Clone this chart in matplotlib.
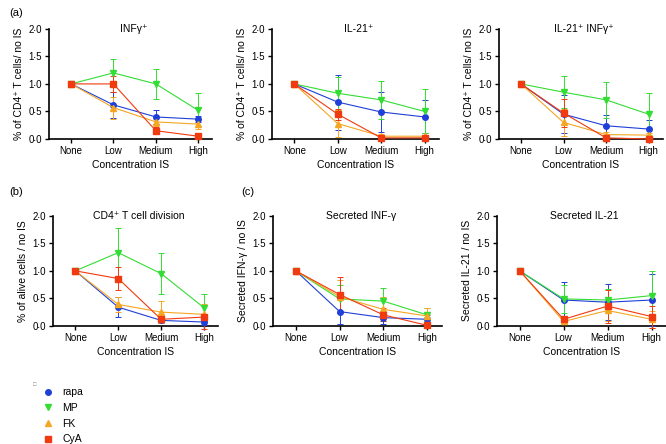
import numpy as np
import matplotlib
matplotlib.use('Agg')
import matplotlib.pyplot as plt
from matplotlib.lines import Line2D

plt.rcParams['font.family'] = ['Liberation Sans', 'DejaVu Sans']
plt.rcParams['font.size'] = 7

conc = ['None', 'Low', 'Medium', 'High']
drugs = ['rapa', 'MP', 'FK', 'CyA']
colors = {'rapa': '#1f3fd8', 'MP': '#33dd33', 'FK': '#f5a623', 'CyA': '#f03a10'}
markers = {'rapa': 'o', 'MP': 'v', 'FK': '^', 'CyA': 's'}
ytick_labels = ['0∙0', '0∙5', '1∙0', '1∙5', '2∙0']

# panel (a) INFγ+
infg_mean = {'rapa': [1, 0.62, 0.40, 0.36], 'MP': [1, 1.20, 1.00, 0.52],
             'FK': [1, 0.57, 0.31, 0.27], 'CyA': [1, 1.00, 0.15, 0.05]}
infg_err = {'rapa': [0, 0.24, 0.13, 0.05], 'MP': [0, 0.25, 0.28, 0.31],
            'FK': [0, 0.20, 0.08, 0.08], 'CyA': [0, 0.15, 0.06, 0.05]}
# panel (a) IL-21+
il21_mean = {'rapa': [1, 0.67, 0.49, 0.40], 'MP': [1, 0.83, 0.71, 0.50],
             'FK': [1, 0.28, 0.05, 0.05], 'CyA': [1, 0.45, 0.02, 0.02]}
il21_err = {'rapa': [0, 0.50, 0.36, 0.30], 'MP': [0, 0.30, 0.34, 0.40],
            'FK': [0, 0.25, 0.04, 0.03], 'CyA': [0, 0.10, 0.02, 0.02]}
# panel (a) IL-21+ INFγ+
dbl_mean = {'rapa': [1, 0.45, 0.24, 0.18], 'MP': [1, 0.85, 0.71, 0.45],
            'FK': [1, 0.30, 0.08, 0.07], 'CyA': [1, 0.47, 0.02, 0.00]}
dbl_err = {'rapa': [0, 0.35, 0.20, 0.17], 'MP': [0, 0.29, 0.32, 0.38],
           'FK': [0, 0.25, 0.05, 0.04], 'CyA': [0, 0.25, 0.02, 0.01]}
# panel (b) division
div_mean = {'rapa': [1, 0.34, 0.10, 0.07], 'MP': [1, 1.33, 0.95, 0.33],
            'FK': [1, 0.39, 0.25, 0.21], 'CyA': [1, 0.86, 0.12, 0.16]}
div_err = {'rapa': [0, 0.18, 0.05, 0.05], 'MP': [0, 0.45, 0.37, 0.25],
           'FK': [0, 0.14, 0.20, 0.18], 'CyA': [0, 0.21, 0.05, 0.22]}
# panel (c) secreted IFN-γ
sifn_mean = {'rapa': [1, 0.26, 0.15, 0.12], 'MP': [1, 0.49, 0.45, 0.20],
             'FK': [1, 0.53, 0.30, 0.18], 'CyA': [1, 0.57, 0.20, 0.01]}
sifn_err = {'rapa': [0, 0.22, 0.12, 0.08], 'MP': [0, 0.25, 0.24, 0.12],
            'FK': [0, 0.30, 0.22, 0.15], 'CyA': [0, 0.32, 0.12, 0.01]}
# panel (c) secreted IL-21
sil_mean = {'rapa': [1, 0.47, 0.43, 0.47], 'MP': [1, 0.49, 0.47, 0.55],
            'FK': [1, 0.08, 0.28, 0.12], 'CyA': [1, 0.12, 0.36, 0.17]}
sil_err = {'rapa': [0, 0.33, 0.33, 0.47], 'MP': [0, 0.26, 0.20, 0.44],
           'FK': [0, 0.05, 0.20, 0.15], 'CyA': [0, 0.06, 0.30, 0.20]}

panels = [
    ([0.0736, 0.687, 0.245, 0.248], infg_mean, infg_err, 'INFγ⁺', '% of CD4⁺ T cells/ no IS'),
    ([0.408, 0.687, 0.251, 0.248], il21_mean, il21_err, 'IL-21⁺', '% of CD4⁺ T cells/ no IS'),
    ([0.749, 0.687, 0.246, 0.248], dbl_mean, dbl_err, 'IL-21⁺ INFγ⁺', '% of CD4⁺ T cells/ no IS'),
    ([0.0796, 0.266, 0.248, 0.248], div_mean, div_err, 'CD4⁺ T cell division', '% of alive cells / no IS'),
    ([0.410, 0.266, 0.253, 0.248], sifn_mean, sifn_err, 'Secreted INF-γ', 'Secreted IFN-γ / no IS'),
    ([0.746, 0.266, 0.254, 0.248], sil_mean, sil_err, 'Secreted IL-21', 'Secreted IL-21 / no IS'),
]

fig = plt.figure(figsize=(6.66, 4.44), dpi=100)
x = np.arange(len(conc))
for rect, means, errs, title, ylab in panels:
    ax = fig.add_axes(rect)
    for d in drugs:
        ax.errorbar(x, means[d], yerr=errs[d], color=colors[d], marker=markers[d],
                    ms=5 if d == 'CyA' else 4, lw=0.8, elinewidth=0.7, capsize=2,
                    capthick=0.7, clip_on=False, zorder=3)
    ax.set_xlim(-0.52, 3.33)
    ax.set_ylim(0, 2.0)
    ax.set_yticks([0, 0.5, 1.0, 1.5, 2.0])
    ax.set_yticklabels(ytick_labels)
    ax.set_xticks(x)
    ax.set_xticklabels(conc)
    ax.spines['top'].set_visible(False)
    ax.spines['right'].set_visible(False)
    ax.spines['left'].set_linewidth(1.2)
    ax.spines['bottom'].set_linewidth(1.2)
    ax.tick_params(width=1, length=3, pad=2)
    ax.set_xlabel('Concentration IS', fontsize=7.5, labelpad=3)
    ax.set_ylabel(ylab, fontsize=7.5, labelpad=3)
    ax.text(0.52, 1.0, title, transform=ax.transAxes, ha='center', va='center', fontsize=7.5)

fig.text(0.014, 0.97, '(a)', fontsize=8, va='center')
fig.text(0.014, 0.567, '(b)', fontsize=8, va='center')
fig.text(0.362, 0.567, '(c)', fontsize=8, va='center')

# legend
fig.text(0.052, 0.135, '□', fontsize=4, color='#888888', ha='center', va='center')
handles = [Line2D([], [], ls='none', marker=markers[d], color=colors[d],
                  ms=5 if d == 'CyA' else 4) for d in drugs]
fig.legend(handles, drugs, loc='upper left', bbox_to_anchor=(0.062, 0.128),
           frameon=False, fontsize=7.5, handlelength=1.2, handletextpad=0.8,
           labelspacing=0.55, borderpad=0, borderaxespad=0)

fig.savefig('out.png', dpi=100)
